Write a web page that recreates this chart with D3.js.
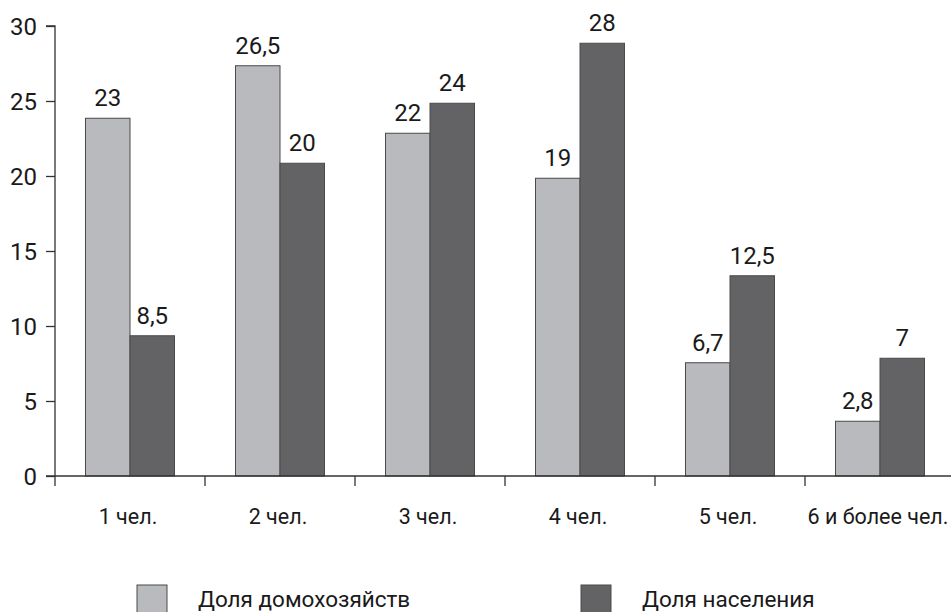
<!DOCTYPE html>
<html>
<head>
<meta charset="utf-8">
<script src="https://cdn.jsdelivr.net/npm/d3@7"></script>
<style>
  body { margin: 0; background: #fff; }
  text { font-family: Roboto, "Noto Sans", sans-serif; fill: #1a1a1a; }
</style>
</head>
<body>
<div id="chart"></div>
<script>
// DATA
var categories = ["1 чел.", "2 чел.", "3 чел.", "4 чел.", "5 чел.", "6 и более чел."];
var households = [23, 26.5, 22, 19, 6.7, 2.8];   // Доля домохозяйств
var population = [8.5, 20, 24, 28, 12.5, 7];     // Доля населения
var seriesNames = ["Доля домохозяйств", "Доля населения"];
var yTicks = [0, 5, 10, 15, 20, 25, 30];
// in the source the bars stand a little above their printed values
var barLift = 0.85;

var width = 951, height = 612;
var colors = ["#b9babd", "#636365"];

var svg = d3.select("#chart").append("svg")
  .attr("width", width)
  .attr("height", height);

var y = d3.scaleLinear().domain([0, 30]).range([476, 26]);
var x = d3.scaleBand().domain(categories).range([55, 955]).paddingInner(0).paddingOuter(0);
var inner = d3.scaleBand().domain([0, 1]).range([0, 89]);

// y axis
var yAxis = d3.axisLeft(y).tickValues(yTicks).tickSize(9).tickFormat(d3.format("d"));
var gy = svg.append("g").attr("transform", "translate(55,0)").call(yAxis);
gy.select(".domain").attr("stroke", "#333").attr("stroke-width", 1.3).attr("d", "M0,486V26H-9");
gy.selectAll(".tick line").attr("stroke", "#333").attr("stroke-width", 1.3);
gy.selectAll(".tick text").attr("x", -18).attr("dy", "0.36em")
  .style("font-size", "24px").style("fill", "#1a1a1a");

// bars
var rows = categories.map(function(c, i) { return { cat: c, vals: [households[i], population[i]] }; });
var groups = svg.selectAll("g.grp").data(rows).enter().append("g")
  .attr("class", "grp")
  .attr("transform", function(d) { return "translate(" + (x(d.cat) + x.bandwidth() / 2 - 44.5) + ",0)"; });

groups.selectAll("rect").data(function(d) { return d.vals; }).enter().append("rect")
  .attr("x", function(d, j) { return inner(j); })
  .attr("width", inner.bandwidth())
  .attr("y", function(d) { return y(d + barLift); })
  .attr("height", function(d) { return y(0) - y(d + barLift); })
  .attr("fill", function(d, j) { return colors[j]; })
  .attr("stroke", "#4a4a4a")
  .attr("stroke-width", 1);

groups.selectAll("text.val").data(function(d) { return d.vals; }).enter().append("text")
  .attr("class", "val")
  .attr("x", function(d, j) { return inner(j) + inner.bandwidth() / 2; })
  .attr("y", function(d) { return y(d + barLift) - 12; })
  .attr("text-anchor", "middle")
  .style("font-size", "24px")
  .text(function(d) { return String(d).replace(".", ","); });

// x axis
var xAxis = d3.axisBottom(x).tickSize(0).tickFormat("");
var gx = svg.append("g").attr("transform", "translate(0,476)").call(xAxis);
gx.select(".domain").attr("stroke", "#333").attr("stroke-width", 1.3).attr("d", "M46,0H951");
svg.selectAll("line.sep").data(d3.range(1, categories.length)).enter().append("line")
  .attr("class", "sep")
  .attr("x1", function(i) { return x(categories[i]); })
  .attr("x2", function(i) { return x(categories[i]); })
  .attr("y1", 476).attr("y2", 486)
  .attr("stroke", "#333").attr("stroke-width", 1.3);

svg.selectAll("text.cat").data(categories).enter().append("text")
  .attr("class", "cat")
  .attr("x", function(d) { return x(d) + x.bandwidth() / 2 - 2; })
  .attr("y", 524)
  .attr("text-anchor", "middle")
  .style("font-size", "21.5px")
  .text(function(d) { return d; });

// legend
var legendX = [137, 581];
var leg = svg.selectAll("g.leg").data(seriesNames).enter().append("g")
  .attr("class", "leg")
  .attr("transform", function(d, i) { return "translate(" + legendX[i] + ",585)"; });
leg.append("rect").attr("width", 30).attr("height", 30)
  .attr("fill", function(d, i) { return colors[i]; })
  .attr("stroke", "#4a4a4a").attr("stroke-width", 1);
leg.append("text").attr("x", 61).attr("y", 22)
  .style("font-size", "22.5px")
  .text(function(d) { return d; });
</script>
</body>
</html>
